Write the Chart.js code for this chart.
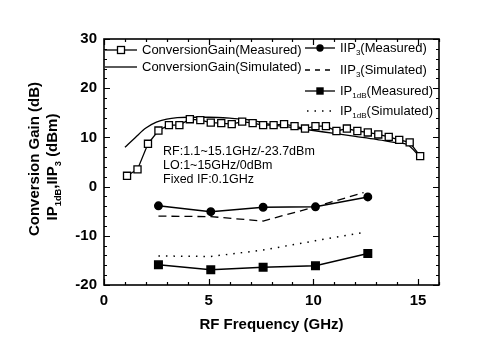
<!DOCTYPE html>
<html>
<head>
<meta charset="utf-8">
<script src="https://cdn.jsdelivr.net/npm/chart.js@4"></script>
<style>
  html, body { margin: 0; padding: 0; background: #fff; }
  #wrap { width: 487px; height: 345px; }
</style>
</head>
<body>
<div id="wrap"><canvas id="myChart" width="487" height="345"></canvas></div>
<script>
const FONT = '"Liberation Sans", Arial, sans-serif';

// conversion gain, measured every 0.5 GHz
const freqGain = [1.1, 1.6, 2.1, 2.6, 3.1, 3.6, 4.1, 4.6, 5.1, 5.6, 6.1, 6.6, 7.1, 7.6, 8.1,
    8.6, 9.1, 9.6, 10.1, 10.6, 11.1, 11.6, 12.1, 12.6, 13.1, 13.6, 14.1, 14.6, 15.1];
const gainMeasured = [2.2, 3.5, 8.7, 11.4, 12.5, 12.5, 13.7, 13.5, 13.0, 12.9, 12.7, 13.2, 12.9, 12.5, 12.5,
    12.7, 12.3, 11.8, 12.3, 12.3, 11.3, 11.8, 11.3, 11.0, 10.6, 10.1, 9.5, 9.0, 6.2];

const freqGainSim = [1.0, 1.5, 2.0, 2.5, 3.0, 3.5, 4.0, 5.0, 6.0, 7.0, 8.0, 9.0, 10.0, 11.0, 12.0, 13.0, 14.0, 14.5, 15.1];
const gainSimulated = [8.0, 10.0, 11.9, 13.1, 13.7, 14.0, 14.1, 14.1, 13.9, 13.5, 12.6, 12.0, 11.4, 10.8, 10.2, 9.6, 8.9, 8.5, 6.0];

// linearity
const freqLin = [2.6, 5.1, 7.6, 10.1, 12.6];
const freqLinSim = [2.6, 5.1, 7.6, 10.1, 12.4];
const iip3Measured = [-3.9, -5.1, -4.2, -4.1, -2.1];
const iip3Simulated = [-6.0, -6.1, -7.0, -4.1, -1.2];
const ip1dbMeasured = [-15.9, -16.9, -16.4, -16.1, -13.6];
const ip1dbSimulated = [-14.1, -14.2, -12.9, -11.0, -9.3];

const xTicks = [0, 5, 10, 15];
const yTicks = [-20, -10, 0, 10, 20, 30];

const toPoints = (xs, ys) => xs.map((x, i) => ({ x: x, y: ys[i] }));

// text pieces with optional subscripts
function drawRich(ctx, parts, x, y, size, bold) {
    let cx = x;
    parts.forEach(p => {
        const sub = p.sub;
        const fs = sub ? size * 0.62 : size;
        ctx.font = (bold ? 'bold ' : '') + fs + 'px ' + FONT;
        ctx.fillText(p.t, cx, sub ? y + size * 0.38 : y);
        cx += ctx.measureText(p.t).width;
    });
    return cx - x;
}
function richWidth(ctx, parts, size, bold) {
    let w = 0;
    parts.forEach(p => {
        const fs = p.sub ? size * 0.62 : size;
        ctx.font = (bold ? 'bold ' : '') + fs + 'px ' + FONT;
        w += ctx.measureText(p.t).width;
    });
    return w;
}

function marker(ctx, kind, x, y) {
    ctx.save();
    ctx.lineWidth = 1.3;
    ctx.setLineDash([]);
    if (kind === 'openSquare') {
        ctx.fillStyle = '#fff';
        ctx.fillRect(x - 3.5, y - 3.5, 7, 7);
        ctx.strokeRect(x - 3.5, y - 3.5, 7, 7);
    } else if (kind === 'circle') {
        ctx.beginPath();
        ctx.arc(x, y, 3.7, 0, Math.PI * 2);
        ctx.fill();
    } else if (kind === 'square') {
        ctx.fillRect(x - 3.7, y - 3.7, 7.4, 7.4);
    }
    ctx.restore();
}

const decor = {
    id: 'decor',
    afterDraw(chart) {
        const ctx = chart.ctx;
        const a = chart.chartArea;
        const xs = chart.scales.x, ys = chart.scales.y;
        ctx.save();
        ctx.strokeStyle = '#000';
        ctx.fillStyle = '#000';

        // frame
        ctx.lineWidth = 1.6;
        ctx.strokeRect(a.left, a.top, a.right - a.left, a.bottom - a.top);

        // inward ticks
        ctx.lineWidth = 1.2;
        ctx.beginPath();
        for (let v = 0; v <= 16; v++) {
            const px = Math.round(xs.getPixelForValue(v)) + 0.5;
            const len = v % 5 === 0 ? 6 : 3;
            ctx.moveTo(px, a.bottom); ctx.lineTo(px, a.bottom - len);
            ctx.moveTo(px, a.top); ctx.lineTo(px, a.top + len);
        }
        for (let v = -20; v <= 30; v += 2) {
            const py = Math.round(ys.getPixelForValue(v)) + 0.5;
            const len = v % 10 === 0 ? 6 : 3;
            ctx.moveTo(a.left, py); ctx.lineTo(a.left + len, py);
            ctx.moveTo(a.right, py); ctx.lineTo(a.right - len, py);
        }
        ctx.stroke();

        // x title
        ctx.textAlign = 'center';
        ctx.textBaseline = 'middle';
        ctx.font = 'bold 15px ' + FONT;
        ctx.fillText('RF Frequency (GHz)', (a.left + a.right) / 2, 325);

        // y title, two lines
        ctx.save();
        ctx.translate(35, 159);
        ctx.rotate(-Math.PI / 2);
        ctx.fillText('Conversion Gain (dB)', 0, 0);
        ctx.restore();
        ctx.save();
        ctx.translate(53, 167);
        ctx.rotate(-Math.PI / 2);
        ctx.textAlign = 'left';
        const yParts = [{ t: 'IP' }, { t: '1dB', sub: true }, { t: ',IIP' }, { t: '3', sub: true }, { t: ' (dBm)' }];
        const w = richWidth(ctx, yParts, 15, true);
        drawRich(ctx, yParts, -w / 2, 0, 15, true);
        ctx.restore();

        // annotation
        ctx.textAlign = 'left';
        ctx.font = '12.5px ' + FONT;
        ctx.fillText('RF:1.1~15.1GHz/-23.7dBm', 163, 152);
        ctx.fillText('LO:1~15GHz/0dBm', 163, 166);
        ctx.fillText('Fixed IF:0.1GHz', 163, 180);

        // legend
        ctx.lineWidth = 1.3;
        const legendLine = (x1, x2, y, dash) => {
            ctx.setLineDash(dash || []);
            ctx.beginPath(); ctx.moveTo(x1, y); ctx.lineTo(x2, y); ctx.stroke();
            ctx.setLineDash([]);
        };
        ctx.font = '13px ' + FONT;
        legendLine(105, 137, 50);
        marker(ctx, 'openSquare', 121, 50);
        ctx.fillText('ConversionGain(Measured)', 142, 50);
        legendLine(105, 137, 67);
        ctx.font = '13px ' + FONT;
        ctx.fillText('ConversionGain(Simulated)', 142, 67);

        legendLine(305, 335, 48);
        marker(ctx, 'circle', 320, 48);
        drawRich(ctx, [{ t: 'IIP' }, { t: '3', sub: true }, { t: '(Measured)' }], 340, 48, 13, false);
        legendLine(305, 335, 70, [5, 5]);
        drawRich(ctx, [{ t: 'IIP' }, { t: '3', sub: true }, { t: '(Simulated)' }], 340, 70, 13, false);
        legendLine(305, 335, 91);
        marker(ctx, 'square', 320, 91);
        drawRich(ctx, [{ t: 'IP' }, { t: '1dB', sub: true }, { t: '(Measured)' }], 340, 91, 13, false);
        legendLine(307, 333, 111, [1.5, 6]);
        drawRich(ctx, [{ t: 'IP' }, { t: '1dB', sub: true }, { t: '(Simulated)' }], 340, 111, 13, false);

        ctx.restore();
    }
};

const ctx = document.getElementById('myChart').getContext('2d');

const myChart = new Chart(ctx, {
    type: 'line',
    data: {
        datasets: [{
            label: 'ConversionGain(Measured)',
            data: toPoints(freqGain, gainMeasured),
            borderColor: '#000',
            borderWidth: 1.3,
            pointStyle: 'rect',
            pointRadius: 5,
            pointBorderWidth: 1.3,
            pointBackgroundColor: '#fff',
            pointBorderColor: '#000'
        },
        {
            label: 'ConversionGain(Simulated)',
            data: toPoints(freqGainSim, gainSimulated),
            borderColor: '#000',
            borderWidth: 1.3,
            pointRadius: 0,
            cubicInterpolationMode: 'monotone'
        },
        {
            label: 'IIP3(Measured)',
            data: toPoints(freqLin, iip3Measured),
            borderColor: '#000',
            borderWidth: 1.5,
            pointStyle: 'circle',
            pointRadius: 3.7,
            pointBackgroundColor: '#000',
            pointBorderColor: '#000'
        },
        {
            label: 'IIP3(Simulated)',
            data: toPoints(freqLinSim, iip3Simulated),
            borderColor: '#000',
            borderWidth: 1.3,
            borderDash: [8, 5],
            pointRadius: 0
        },
        {
            label: 'IP1dB(Measured)',
            data: toPoints(freqLin, ip1dbMeasured),
            borderColor: '#000',
            borderWidth: 1.5,
            pointStyle: 'rect',
            pointRadius: 5.3,
            pointBackgroundColor: '#000',
            pointBorderColor: '#000'
        },
        {
            label: 'IP1dB(Simulated)',
            data: toPoints(freqLinSim, ip1dbSimulated),
            borderColor: '#000',
            borderWidth: 1.5,
            borderDash: [1.5, 6],
            pointRadius: 0
        }]
    },
    options: {
        responsive: false,
        animation: false,
        layout: { padding: { left: 0, right: 48, top: 39, bottom: 0 } },
        plugins: {
            legend: { display: false },
            tooltip: { enabled: false }
        },
        scales: {
            x: {
                type: 'linear',
                min: 0,
                max: 16,
                afterFit: s => { s.height = 60; },
                afterBuildTicks: s => { s.ticks = xTicks.map(v => ({ value: v })); },
                grid: { display: false, drawTicks: false },
                border: { display: false },
                ticks: {
                    padding: 7,
                    maxRotation: 0,
                    color: '#000',
                    font: { family: FONT, size: 15, weight: 'bold' }
                }
            },
            y: {
                min: -20,
                max: 30,
                afterFit: s => { s.width = 104; },
                afterBuildTicks: s => { s.ticks = yTicks.map(v => ({ value: v })); },
                grid: { display: false, drawTicks: false },
                border: { display: false },
                ticks: {
                    padding: 7,
                    color: '#000',
                    font: { family: FONT, size: 15, weight: 'bold' }
                }
            }
        }
    },
    plugins: [decor]
});
</script>
</body>
</html>
